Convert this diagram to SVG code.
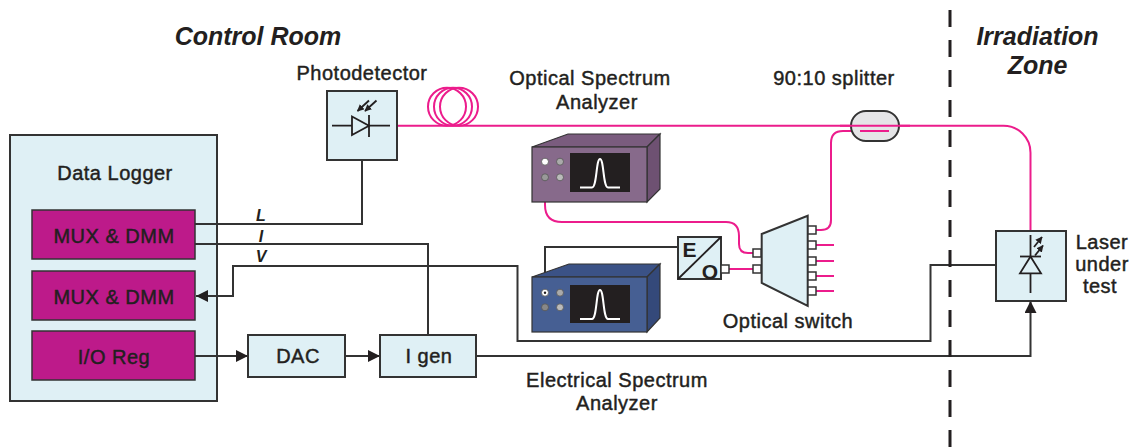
<svg xmlns="http://www.w3.org/2000/svg" width="1138" height="448" viewBox="0 0 1138 448">
  <defs>
    <style>
      text { font-family: "Liberation Sans", Arial, sans-serif; fill: #231f20; }
      .lbl { font-size: 20px; text-anchor: middle; letter-spacing: 0.5px; stroke: #231f20; stroke-width: 0.45px; }
      .title { font-size: 25px; font-weight: bold; font-style: italic; text-anchor: middle; }
      .sig { font-size: 16px; font-weight: bold; font-style: italic; text-anchor: middle; }
      .eo { font-size: 21px; font-weight: bold; text-anchor: middle; }
      .box { fill: #dff0f5; stroke: #333; stroke-width: 2; }
      .mod { fill: #bd1a8a; stroke: #333; stroke-width: 1.5; }
      .wire { fill: none; stroke: #333; stroke-width: 2; }
      .thin { fill: none; stroke: #231f20; stroke-width: 1.8; }
      .fiber { fill: none; stroke: #ec1c8c; stroke-width: 2; }
      .port { fill: #fff; stroke: #333; stroke-width: 1.5; }
      .pulse { fill: none; stroke: #fff; stroke-width: 2; }
      .knob { stroke: #555; stroke-width: 0.8; }
    </style>
    <marker id="arrBig" viewBox="0 0 12 12" refX="12" refY="6" markerWidth="12" markerHeight="12" markerUnits="userSpaceOnUse" orient="auto">
      <path d="M0,0 L12,6 L0,12 Z" fill="#231f20"/>
    </marker>
    <marker id="arrSmall" viewBox="0 0 10 10" refX="9" refY="5" markerWidth="7" markerHeight="7" markerUnits="userSpaceOnUse" orient="auto">
      <path d="M0,0 L10,5 L0,10 Z" fill="#231f20"/>
    </marker>
  </defs>

  <rect width="1138" height="448" fill="#fff"/>

  <!-- zone titles -->
  <text class="title" x="258" y="45">Control Room</text>
  <text class="title" x="1037.5" y="45">Irradiation</text>
  <text class="title" x="1037.5" y="74">Zone</text>

  <!-- data logger -->
  <g id="data-logger">
    <rect class="box" x="10" y="135" width="207" height="266"/>
    <text class="lbl" x="115" y="180">Data Logger</text>
  </g>
  <g id="mux1">
    <rect class="mod" x="32" y="210" width="163" height="49"/>
    <text class="lbl" x="114" y="243">MUX &amp; DMM</text>
  </g>
  <g id="mux2">
    <rect class="mod" x="32" y="271" width="163" height="49"/>
    <text class="lbl" x="114" y="304">MUX &amp; DMM</text>
  </g>
  <g id="io-reg">
    <rect class="mod" x="32" y="331" width="163" height="49"/>
    <text class="lbl" x="114" y="364">I/O Reg</text>
  </g>

  <!-- connectors -->
  <g id="connectors">
    <!-- electrical wires -->
    <path class="wire" d="M195,224 H362 V160"/>
    <path class="wire" d="M195,244 H428 V335"/>
    <path class="wire" d="M1029,265 H930.5 V341 H517.5 V266 H233 V296 H196" marker-end="url(#arrBig)"/>
    <path class="wire" d="M195,356 H248" marker-end="url(#arrBig)"/>
    <path class="wire" d="M345,356 H380" marker-end="url(#arrBig)"/>
    <path class="wire" d="M476,356 H1030.5 V301" marker-end="url(#arrBig)"/>
    <path class="wire" d="M545,292 V247 H678"/>

    <!-- optical fibres -->
    <path class="fiber" d="M397,125.7 H1003 A27,27 0 0 1 1030.5,153 V231"/>
    <circle class="fiber" cx="447" cy="106.7" r="19"/>
    <circle class="fiber" cx="453" cy="106.7" r="19"/>
    <circle class="fiber" cx="459" cy="106.7" r="19"/>
    <path class="fiber" d="M545,177 V205 Q545,222 562,222 H726 Q739,222 739,236 V244 Q739,253 748,253 H753"/>
    <path class="fiber" d="M729,269 H753"/>
    <path class="fiber" d="M816,230 H821 Q831,230 831,220 V143 Q831,131 843,131 H889"/>
    <path class="fiber" d="M816,245 H834 M816,261 H834 M816,276 H834 M816,291 H834"/>
  </g>

  <!-- signal labels -->
  <text class="sig" x="261" y="221">L</text>
  <text class="sig" x="261" y="242">I</text>
  <text class="sig" x="261" y="262">V</text>

  <!-- DAC and current generator -->
  <g id="dac">
    <rect class="box" x="248" y="335" width="97" height="42"/>
    <text class="lbl" x="298" y="363">DAC</text>
  </g>
  <g id="igen">
    <rect class="box" x="380" y="335" width="96" height="42"/>
    <text class="lbl" x="429" y="363">I gen</text>
  </g>

  <!-- photodetector -->
  <g id="photodetector">
    <text class="lbl" x="362" y="80">Photodetector</text>
    <rect class="box" x="327" y="91" width="70" height="69"/>
    <path class="thin" d="M332,125.7 H390"/>
    <path d="M352,116.5 L369,125.7 L352,135 Z" fill="#dff0f5" stroke="#231f20" stroke-width="1.8"/>
    <path class="thin" d="M369,115 V137"/>
    <path class="thin" d="M369,100.5 L357.5,111" marker-end="url(#arrSmall)"/>
    <path class="thin" d="M376.5,100.5 L365,111" marker-end="url(#arrSmall)"/>
  </g>

  <!-- optical spectrum analyzer -->
  <g id="osa">
    <text class="lbl" x="590" y="85">Optical Spectrum</text>
    <text class="lbl" x="597" y="109">Analyzer</text>
    <path d="M532,147 L568,134 L660,134 L647,147 Z" fill="#7a5c7e" stroke="#333" stroke-width="1.2"/>
    <path d="M647,147 L660,134 L660,189 L647,202 Z" fill="#6e5172" stroke="#333" stroke-width="1.2"/>
    <rect x="532" y="147" width="115" height="55" fill="#876a8b" stroke="#333" stroke-width="1.2"/>
    <rect x="570" y="153" width="60" height="39" fill="#231f20"/>
    <path class="pulse" d="M580,187.5 H592 C597,187.5 596,159 600,159 C604,159 603,187.5 608,187.5 H620"/>
    <circle class="knob" cx="545" cy="161.7" r="3.5" fill="#fff"/>
    <circle class="knob" cx="560" cy="161.7" r="3.5" fill="#aaa"/>
    <circle class="knob" cx="545" cy="177.3" r="3.5" fill="#999"/>
    <circle class="knob" cx="560" cy="177.3" r="3.5" fill="#bbb"/>
  </g>

  <!-- electrical spectrum analyzer -->
  <g id="esa">
    <text class="lbl" x="617" y="387">Electrical Spectrum</text>
    <text class="lbl" x="617" y="410">Analyzer</text>
    <path d="M532,277 L569,264 L660,264 L647,277 Z" fill="#3b5286" stroke="#333" stroke-width="1.2"/>
    <path d="M647,277 L660,264 L660,318 L647,332 Z" fill="#34497a" stroke="#333" stroke-width="1.2"/>
    <rect x="532" y="277" width="115" height="55" fill="#465f93" stroke="#333" stroke-width="1.2"/>
    <rect x="570" y="285" width="60" height="38" fill="#231f20"/>
    <path class="pulse" d="M580,319 H592 C597,319 596,290 600,290 C604,290 603,319 608,319 H620"/>
    <circle class="knob" cx="545" cy="292.7" r="3.5" fill="#fff"/>
    <circle cx="545" cy="292.7" r="1.2" fill="#231f20"/>
    <circle class="knob" cx="560" cy="292.7" r="3.5" fill="#aaa"/>
    <circle class="knob" cx="545" cy="307.3" r="3.5" fill="#888"/>
    <circle class="knob" cx="560" cy="307.3" r="3.5" fill="#bbb"/>
  </g>

  <!-- electro-optic converter -->
  <g id="eo">
    <rect class="box" x="678" y="237" width="43" height="42"/>
    <path class="thin" d="M678,279 L721,237"/>
    <text class="eo" x="689.5" y="256.5">E</text>
    <text class="eo" x="710" y="278.5">O</text>
    <rect class="port" x="721" y="265" width="8" height="8"/>
  </g>

  <!-- optical switch -->
  <g id="optical-switch">
    <path d="M761.7,234 L807.7,215.7 L807.7,306 L761.7,283 Z" fill="#dff0f5" stroke="#333" stroke-width="2"/>
    <rect class="port" x="753" y="249" width="8" height="8"/>
    <rect class="port" x="753" y="265" width="8" height="8"/>
    <rect class="port" x="808" y="226" width="8" height="8"/>
    <rect class="port" x="808" y="241" width="8" height="8"/>
    <rect class="port" x="808" y="257" width="8" height="8"/>
    <rect class="port" x="808" y="272" width="8" height="8"/>
    <rect class="port" x="808" y="287" width="8" height="8"/>
    <text class="lbl" x="788" y="328">Optical switch</text>
  </g>

  <!-- 90:10 splitter -->
  <g id="splitter">
    <text class="lbl" x="834" y="85">90:10 splitter</text>
    <rect x="851" y="111" width="48" height="30" rx="15" ry="15" fill="#e5e5e7" stroke="#333" stroke-width="2"/>
    <path class="fiber" d="M840,125.7 H910 M860,131 H889"/>
  </g>

  <!-- laser under test -->
  <g id="laser">
    <rect class="box" x="996" y="231" width="70" height="70"/>
    <path class="thin" d="M1030.5,235 V293"/>
    <path d="M1030.5,256.5 L1041,273.3 L1020,273.3 Z" fill="#dff0f5" stroke="#231f20" stroke-width="1.8"/>
    <path class="thin" d="M1020,256.5 H1041"/>
    <path class="thin" d="M1034,247 L1042,237" marker-end="url(#arrSmall)"/>
    <path class="thin" d="M1035,255.5 L1043,245.5" marker-end="url(#arrSmall)"/>
    <text class="lbl" x="1102" y="249">Laser</text>
    <text class="lbl" x="1102" y="271">under</text>
    <text class="lbl" x="1100" y="293">test</text>
  </g>

  <!-- zone boundary -->
  <path d="M950,10 V448" stroke="#231f20" stroke-width="3" stroke-dasharray="17 13" fill="none"/>
</svg>
